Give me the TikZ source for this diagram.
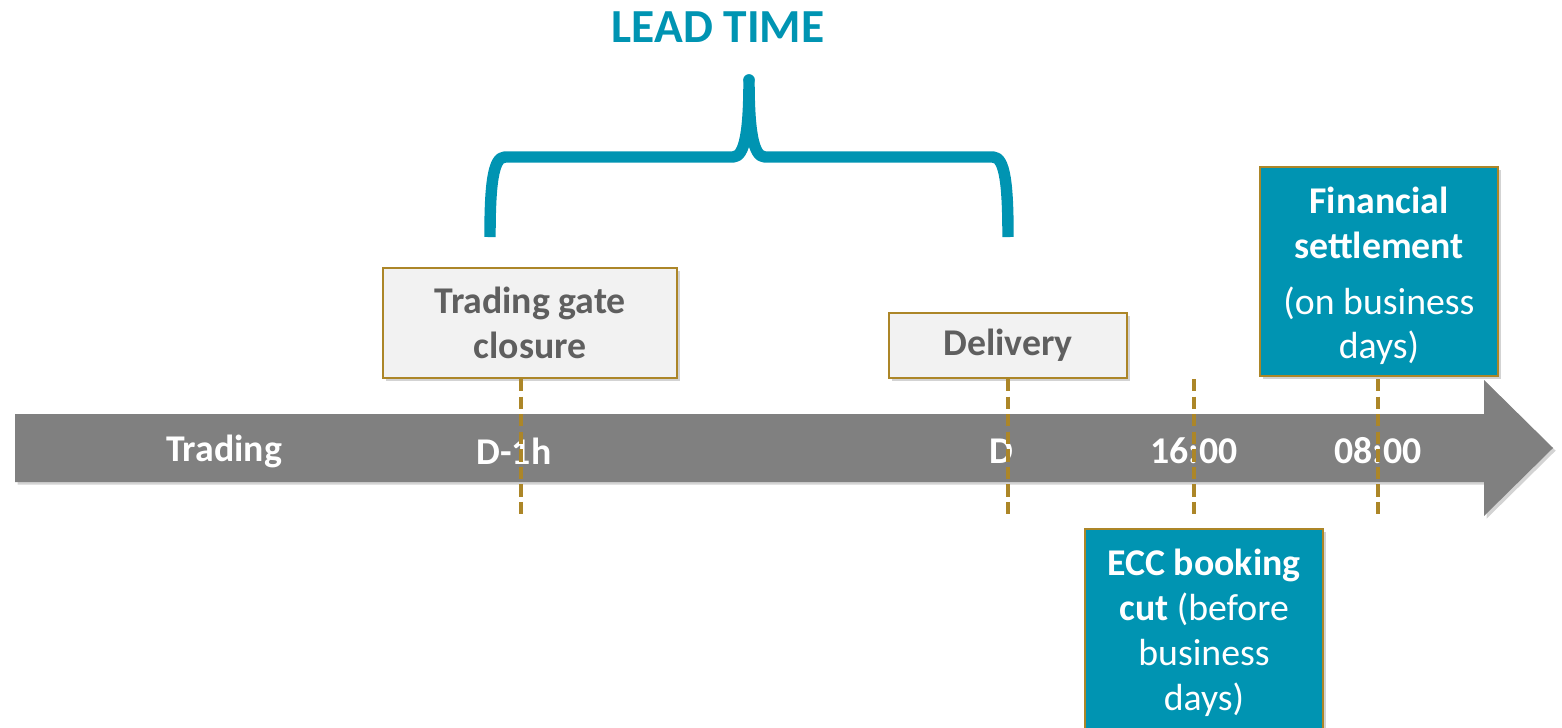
\documentclass[tikz,border=0pt]{standalone}
\usepackage{fontspec}
\setmainfont{Carlito}
\usetikzlibrary{positioning,shadows}

\definecolor{leadteal}{HTML}{0094B2}
\definecolor{tickgold}{HTML}{AC8628}
\definecolor{axisgray}{HTML}{808080}
\definecolor{boxgray}{HTML}{F2F2F2}
\definecolor{boxtext}{HTML}{5F5F5F}

\newcommand{\bigtxt}{\fontsize{21.5}{25.5}\selectfont}

\begin{document}
\begin{tikzpicture}[x=0.02cm,y=-0.02cm]
  % Settings
  \tikzset{
    shade/.style={drop shadow={opacity=0.35, shadow xshift=1.5pt, shadow yshift=-1.5pt}},
    lbl/.style={font=\bigtxt\bfseries, text=white, inner sep=0pt},
    gatebox/.style={draw=tickgold, line width=1.2pt, fill=boxgray, text=boxtext, font=\bigtxt\bfseries, align=center, inner sep=0pt, shade},
    infobox/.style={draw=tickgold, line width=1.2pt, fill=leadteal, text=white, font=\bigtxt, align=center, inner sep=0pt, shade},
    infotext/.style={font=\bigtxt, text=white, align=center, inner sep=0pt},
    tick/.style={draw=tickgold, line width=2.1pt, dash pattern=on 7pt off 3pt},
    brace/.style={draw=leadteal, line width=6.5pt, line join=round},
  }
  \useasboundingbox (0,0) rectangle (1562,727);
  % Time axis
  \fill[axisgray, shade] (15,414) -- (1484,414) -- (1484,380) -- (1553,448)
    -- (1484,516) -- (1484,482) -- (15,482) -- cycle;
  \node[lbl] (trading) at (224,451) {Trading};
  \node[lbl] (dminus)  at (514,451) {D-1h};
  \node[lbl] (dday)    at (1001,451) {D};
  \node[lbl] (cut)     at (1194,451) {16:00};
  \node[lbl] (settle)  at (1378,451) {08:00};
  % Boxes
  \node[gatebox, minimum width=5.88cm, minimum height=2.2cm] (gate) at (530,323)
    {\raisebox{-2pt}{Trading gate}\\\raisebox{-2pt}{closure}};
  \node[gatebox, minimum width=4.76cm, minimum height=1.3cm] (delivery) at (1008,345.5) {\raisebox{-2pt}{Delivery}};
  \node[infobox, minimum width=4.76cm, minimum height=4.18cm] (financial) at (1379,271.5) {};
  \node[infotext, anchor=north] (fintext) at (1379,187)
    {\textbf{Financial}\\\textbf{settlement}\\[6pt](on business\\days)};
  \node[infobox, minimum width=4.76cm, minimum height=4.6cm, anchor=north] (ecc) at (1204,528) {};
  \node[infotext, anchor=north] (ecctext) at (1204,549)
    {\textbf{ECC booking}\\\textbf{cut} (before\\business\\days)};
  % Ticks
  \foreach \x/\n in {521/a,1008/b,1194/c,1378/d} {
    \coordinate (top\n) at (\x,379);
    \coordinate (bot\n) at (\x,515);
    \draw[tick] (top\n) -- (bot\n);
  }
  % Lead time
  \coordinate (braceL) at (490,237);
  \coordinate (braceR) at (1008,237);
  \coordinate (braceT) at (749,80);
  \draw[brace] (braceL) .. controls (490,185) and (493,157) .. (505,157) -- (733,157)
    .. controls (745,157) and (749,130) .. (braceT)
    .. controls (749,130) and (753,157) .. (765,157) -- (993,157)
    .. controls (1005,157) and (1008,185) .. (braceR);
  \fill[leadteal] (braceT) circle (3.25pt);
  \node[font=\fontsize{27}{32}\selectfont\bfseries, text=leadteal] (lead) at (718,27) {LEAD TIME};
\end{tikzpicture}
\end{document}
